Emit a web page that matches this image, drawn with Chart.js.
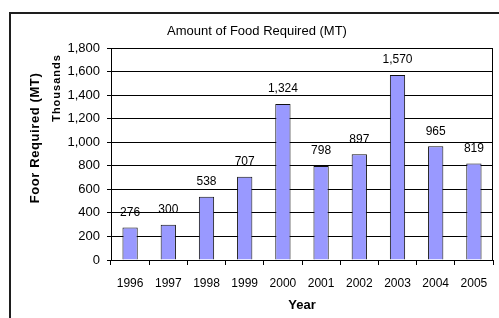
<!DOCTYPE html>
<html>
<head>
    <title>Amount of Food Required (MT)</title>
    <script src="https://cdn.jsdelivr.net/npm/chart.js@4/dist/chart.umd.min.js"></script>
    <style>
        body { margin: 0; background: #fff; }
    </style>
</head>
<body>
    <canvas id="chart-area" width="499" height="318"></canvas>

    <script>
        // chart data
        var years = ['1996', '1997', '1998', '1999', '2000', '2001', '2002', '2003', '2004', '2005'];
        var foodRequired = [276, 300, 538, 707, 1324, 798, 897, 1570, 965, 819];
        var yMin = 0, yMax = 1800, yStep = 200;

        var FONT = '"Liberation Sans", Arial, sans-serif';

        // frame, plot border, rotated axis titles and value labels
        var decorations = {
            id: 'decorations',
            beforeDatasetsDraw: function(chart) {
                var ctx = chart.ctx, a = chart.chartArea;
                ctx.save();
                ctx.strokeStyle = '#000';
                ctx.lineWidth = 1;
                ctx.strokeRect(Math.round(a.left) + 0.5, Math.round(a.top) + 0.5,
                    Math.round(a.right - a.left) - 1, Math.round(a.bottom - a.top));
                ctx.restore();
            },
            afterDatasetsDraw: function(chart) {
                var ctx = chart.ctx;
                var bars = chart.getDatasetMeta(0).data;
                ctx.save();
                ctx.fillStyle = '#000';
                ctx.font = '12px ' + FONT;
                ctx.textAlign = 'center';
                ctx.textBaseline = 'middle';
                bars.forEach(function(bar, i) {
                    ctx.fillText(foodRequired[i].toLocaleString('en-US'), bar.x, bar.y - 15);
                });
                ctx.restore();
            },
            afterDraw: function(chart) {
                var ctx = chart.ctx;
                ctx.save();
                // outer frame (left and top edges only)
                ctx.fillStyle = '#1e1e1e';
                ctx.fillRect(9, 12, 490, 2);
                ctx.fillRect(9, 12, 2, 306);

                ctx.fillStyle = '#000';
                ctx.textAlign = 'center';
                ctx.textBaseline = 'middle';

                ctx.save();
                ctx.translate(35, 138);
                ctx.rotate(-Math.PI / 2);
                ctx.font = 'bold 13px ' + FONT;
                ctx.letterSpacing = '0.6px';
                ctx.fillText('Foor Required (MT)', 0, 0);
                ctx.restore();

                ctx.save();
                ctx.translate(57, 88);
                ctx.rotate(-Math.PI / 2);
                ctx.font = 'bold 11px ' + FONT;
                ctx.letterSpacing = '1px';
                ctx.fillText('Thousands', 0, 0);
                ctx.restore();

                ctx.restore();
            }
        };

        var config = {
            type: 'bar',
            data: {
                labels: years,
                datasets: [{
                    data: foodRequired,
                    backgroundColor: '#9999ff',
                    borderColor: '#111',
                    borderWidth: 1,
                    categoryPercentage: 1.0,
                    barPercentage: 0.4
                }]
            },
            options: {
                responsive: false,
                animation: false,
                layout: { padding: { left: 21, right: 6, top: 0, bottom: 0 } },
                plugins: {
                    legend: { display: false },
                    tooltip: { enabled: false },
                    title: {
                        display: true,
                        text: 'Amount of Food Required (MT)',
                        color: '#000',
                        font: { family: FONT, size: 13, weight: 'normal' },
                        padding: { top: 24, bottom: 8.4 }
                    }
                },
                scales: {
                    x: {
                        afterFit: function(scale) { scale.height = 58; },
                        grid: {
                            display: true,
                            drawOnChartArea: false,
                            drawTicks: true,
                            tickLength: 5,
                            color: '#000',
                            offset: true
                        },
                        border: { color: '#000' },
                        ticks: {
                            color: '#000',
                            padding: 11,
                            font: { family: FONT, size: 12 }
                        },
                        title: {
                            display: true,
                            text: 'Year',
                            color: '#000',
                            font: { family: FONT, size: 13, weight: 'bold' },
                            padding: { top: 0, bottom: 5 }
                        }
                    },
                    y: {
                        min: yMin,
                        max: yMax,
                        afterFit: function(scale) { scale.width = 90; },
                        grid: {
                            color: '#000',
                            tickLength: 4
                        },
                        border: { color: '#000' },
                        ticks: {
                            stepSize: yStep,
                            color: '#000',
                            padding: 7,
                            font: { family: FONT, size: 13 },
                            callback: function(v) { return v.toLocaleString('en-US'); }
                        }
                    }
                }
            },
            plugins: [decorations]
        };

        window.onload = function() {
            var ctx = document.getElementById('chart-area').getContext('2d');
            window.myBar = new Chart(ctx, config);
        };
    </script>
</body>
</html>
